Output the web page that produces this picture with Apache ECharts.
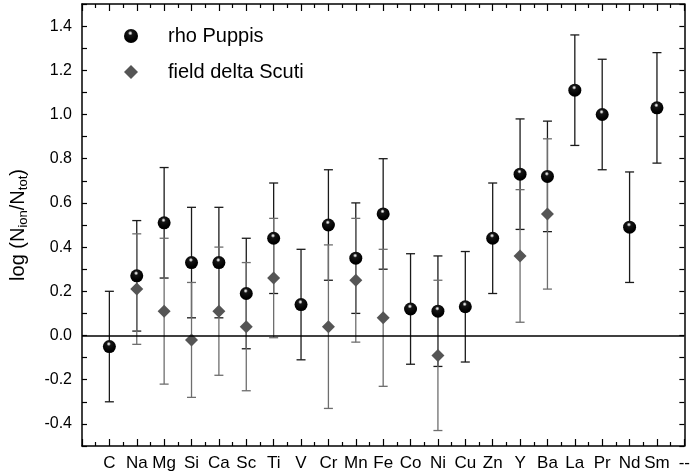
<!DOCTYPE html>
<html>
<head>
<meta charset="utf-8">
<script src="https://cdn.jsdelivr.net/npm/echarts@6/dist/echarts.min.js"></script>
<style>
html,body{margin:0;padding:0;background:#fff;}
#chart{width:693px;height:476px;}
</style>
</head>
<body>
<div id="chart"></div>
<script>
// Category labels (x positions 1..22)
const elements = ['C','Na','Mg','Si','Ca','Sc','Ti','V','Cr','Mn','Fe','Co','Ni','Cu','Zn','Y','Ba','La','Pr','Nd','Sm','--'];

// rho Puppis: element, value, error
const rhoElements = ['C','Na','Mg','Si','Ca','Sc','Ti','V','Cr','Mn','Fe','Co','Ni','Cu','Zn','Y','Ba','La','Pr','Nd','Sm'];
const rhoValues   = [-0.05,0.27,0.51,0.33,0.33,0.19,0.44,0.14,0.50,0.35,0.55,0.12,0.11,0.13,0.44,0.73,0.72,1.11,1.00,0.49,1.03];
const rhoErrors   = [0.25,0.25,0.25,0.25,0.25,0.25,0.25,0.25,0.25,0.25,0.25,0.25,0.25,0.25,0.25,0.25,0.25,0.25,0.25,0.25,0.25];

// field delta Scuti
const dsElements = ['Na','Mg','Si','Ca','Sc','Ti','Cr','Mn','Fe','Ni','Y','Ba'];
const dsValues   = [0.21,0.11,-0.02,0.11,0.04,0.26,0.04,0.25,0.08,-0.09,0.36,0.55];
const dsErrors   = [0.25,0.33,0.26,0.29,0.29,0.27,0.37,0.28,0.31,0.34,0.30,0.34];

const pos = e => elements.indexOf(e) + 1;
const rhoData = rhoElements.map((e,i)=>[pos(e), rhoValues[i]]);
const rhoErr  = rhoElements.map((e,i)=>[pos(e), rhoValues[i], rhoValues[i]-rhoErrors[i], rhoValues[i]+rhoErrors[i]]);
const dsData  = dsElements.map((e,i)=>[pos(e), dsValues[i]]);
const dsErr   = dsElements.map((e,i)=>[pos(e), dsValues[i], dsValues[i]-dsErrors[i], dsValues[i]+dsErrors[i]]);

function errRender(color, cap){
  return function(params, api){
    const x = api.value(0);
    const lo = api.coord([x, api.value(2)]);
    const hi = api.coord([x, api.value(3)]);
    const st = {stroke: color, lineWidth: 1.3};
    return {type:'group', children:[
      {type:'line', shape:{x1:lo[0],y1:lo[1],x2:hi[0],y2:hi[1]}, style:st},
      {type:'line', shape:{x1:hi[0]-cap,y1:hi[1],x2:hi[0]+cap,y2:hi[1]}, style:st},
      {type:'line', shape:{x1:lo[0]-cap,y1:lo[1],x2:lo[0]+cap,y2:lo[1]}, style:st}
    ]};
  };
}

const FONT = 'Liberation Sans, Arial, sans-serif';
const chart = echarts.init(document.getElementById('chart'));
const sphere = new echarts.graphic.RadialGradient(0.45, 0.3, 0.55, [
  {offset:0, color:'#ffffff'},
  {offset:0.12, color:'#c0c0c0'},
  {offset:0.3, color:'#151515'},
  {offset:1, color:'#000000'}
]);

const axisCommon = {
  type:'value', min:0, max:22, interval:1,
  axisLine:{show:true, onZero:false, lineStyle:{color:'#000', width:1.5}},
  axisTick:{show:true, inside:true, length:7, lineStyle:{color:'#000', width:1.2}},
  minorTick:{show:true, splitNumber:2, length:4, lineStyle:{color:'#000', width:1.2}},
  splitLine:{show:false}, minorSplitLine:{show:false}
};
const yCommon = {
  type:'value', min:-0.5, max:1.5, interval:0.1,
  axisLine:{show:true, onZero:false, lineStyle:{color:'#000', width:1.5}},
  axisTick:{show:true, inside:true, length:5, lineStyle:{color:'#000', width:1.2}},
  splitLine:{show:false}
};

chart.setOption({
  animation:false,
  backgroundColor:'#fff',
  grid:{left:82, right:8, top:4, bottom:30},
  legend:{
    orient:'vertical', left:119, top:21, itemWidth:14, itemHeight:14, itemGap:16,
    data:['rho Puppis','field delta Scuti'],
    textStyle:{fontFamily:FONT, fontSize:20, color:'#000', padding:[0,0,0,25]}
  },
  xAxis:[
    Object.assign({}, axisCommon, {position:'bottom',
      axisLabel:{show:true, margin:9, fontFamily:FONT, fontSize:17, color:'#000',
        formatter: v => elements[Math.round(v)-1] || ''}}),
    Object.assign({}, axisCommon, {position:'top', axisLabel:{show:false}})
  ],
  yAxis:[
    Object.assign({}, yCommon, {position:'left',
      name:'{a|log (N}{s|ion}{a|/N}{s|tot}{a|)}',
      nameLocation:'middle', nameGap:52,
      nameTextStyle:{rich:{
        a:{fontFamily:FONT, fontSize:20, color:'#000'},
        s:{fontFamily:FONT, fontSize:13, color:'#000', padding:[10,0,0,0]}
      }},
      axisLabel:{show:true, margin:10, fontFamily:FONT, fontSize:16, color:'#000',
        formatter: v => { const k = Math.round(v*10); return (k % 2 === 0) ? (k/10).toFixed(1) : ''; }}}),
    Object.assign({}, yCommon, {position:'right', axisLabel:{show:false}})
  ],
  series:[
    {type:'custom', name:'rhoErr', renderItem: errRender('#1a1a1a', 4.5), data: rhoErr, z:2,
     encode:{x:0, y:[1,2,3]},
     markLine:{silent:true, symbol:'none', label:{show:false},
       lineStyle:{color:'#000', width:1.5, type:'solid'}, data:[{yAxis:0}]}},
    {type:'custom', name:'dsErr', renderItem: errRender('#6e6e6e', 4.5), data: dsErr, z:3,
     encode:{x:0, y:[1,2,3]}},
    {type:'scatter', name:'field delta Scuti', symbol:'diamond', symbolSize:13, data: dsData, z:4,
     itemStyle:{color:'#555555', opacity:1}},
    {type:'scatter', name:'rho Puppis', symbol:'circle', symbolSize:13, data: rhoData, z:5,
     itemStyle:{color: sphere, opacity:1}}
  ]
});
</script>
</body>
</html>
